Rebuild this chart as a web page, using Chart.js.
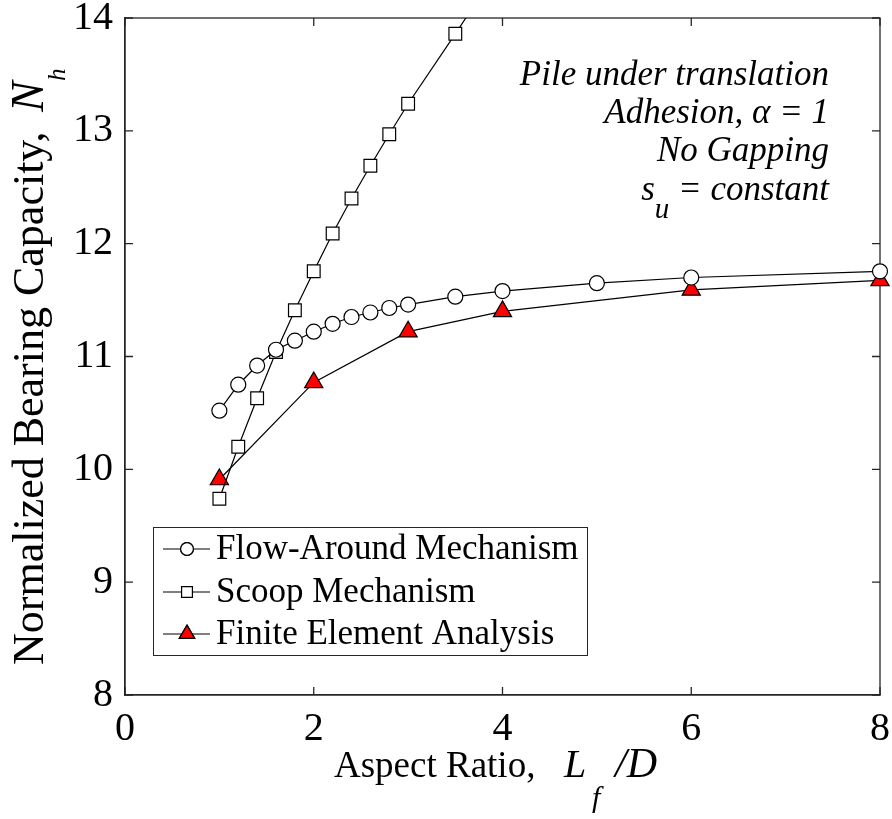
<!DOCTYPE html>
<html>
<head>
<meta charset="utf-8">
<script src="https://cdn.jsdelivr.net/npm/chart.js@4.4.1/dist/chart.umd.min.js"></script>
<style>
  html, body { margin: 0; padding: 0; background: #ffffff; }
  #c { display: block; }
</style>
</head>
<body>
<canvas id="c" width="892" height="819"></canvas>
<script>
// Aspect ratio L_f/D
const xFlow  = [1, 1.2, 1.4, 1.6, 1.8, 2, 2.2, 2.4, 2.6, 2.8, 3, 3.5, 4, 5, 6, 8];
const nFlow  = [10.52, 10.75, 10.92, 11.06, 11.14, 11.22, 11.29, 11.35, 11.39, 11.43, 11.46, 11.53, 11.58, 11.65, 11.70, 11.755];

const xScoop = [1, 1.2, 1.4, 1.6, 1.8, 2, 2.2, 2.4, 2.6, 2.8, 3, 3.5, 4];
const nScoop = [9.74, 10.20, 10.63, 11.04, 11.41, 11.755, 12.09, 12.40, 12.69, 12.97, 13.24, 13.86, 14.49];

const xFea   = [1, 2, 3, 4, 6, 8];
const nFea   = [9.91, 10.77, 11.22, 11.40, 11.59, 11.675];

const seriesNames = ['Flow-Around Mechanism', 'Scoop Mechanism', 'Finite Element Analysis'];
const xTicks = [0, 2, 4, 6, 8];
const yTicks = [8, 9, 10, 11, 12, 13, 14];

const SERIF = '"Liberation Serif", "Times New Roman", serif';
const AXIS = '#262626';

const toPts = (xs, ys) => xs.map((x, i) => ({ x: x, y: ys[i] }));

const styles = [
  { pointStyle: 'circle',   radius: 7.5, fill: '#ffffff' },
  { pointStyle: 'rect',     radius: 9,   fill: '#ffffff' },
  { pointStyle: 'triangle', radius: 10.5, fill: '#ff0000' }
];

function dataset(i, pts, clip) {
  const s = styles[i];
  return {
    label: seriesNames[i],
    data: pts,
    showLine: true,
    borderColor: '#000000',
    borderWidth: 1.2,
    pointStyle: s.pointStyle,
    pointRadius: s.radius,
    pointBackgroundColor: s.fill,
    pointBorderColor: '#000000',
    pointBorderWidth: 1.2,
    tension: 0,
    clip: clip
  };
}

// Draws text runs; a run with `at` is placed at that offset, otherwise right after the previous one.
function drawRuns(ctx, runs, x, y, measureOnly) {
  let cx = x;
  for (const r of runs) {
    if (r.at !== undefined) cx = x + r.at;
    ctx.font = (r.italic ? 'italic ' : '') + r.size + 'px ' + SERIF;
    const w = ctx.measureText(r.text).width;
    if (!measureOnly) ctx.fillText(r.text, cx, y + (r.dy || 0));
    cx += w;
  }
  return cx - x;
}

const framePlugin = {
  id: 'frame',
  beforeDatasetsDraw(chart) {
    const { ctx, chartArea: a, scales } = chart;
    ctx.save();
    ctx.strokeStyle = AXIS;
    ctx.lineWidth = 1.3;
    ctx.strokeRect(a.left, a.top, a.right - a.left, a.bottom - a.top);
    const tl = 8;
    ctx.beginPath();
    for (const v of xTicks) {
      const px = scales.x.getPixelForValue(v);
      ctx.moveTo(px, a.bottom); ctx.lineTo(px, a.bottom - tl);
      ctx.moveTo(px, a.top);    ctx.lineTo(px, a.top + tl);
    }
    for (const v of yTicks) {
      const py = scales.y.getPixelForValue(v);
      ctx.moveTo(a.left, py);  ctx.lineTo(a.left + tl, py);
      ctx.moveTo(a.right, py); ctx.lineTo(a.right - tl, py);
    }
    ctx.stroke();
    ctx.restore();
  },
  afterDraw(chart) {
    const { ctx } = chart;
    ctx.save();
    ctx.fillStyle = '#000000';
    ctx.textBaseline = 'alphabetic';
    ctx.textAlign = 'left';

    // x-axis title
    drawRuns(ctx, [
      { text: 'Aspect Ratio,', size: 37 },
      { text: 'L', size: 40, italic: true, at: 230 },
      { text: 'f', size: 30, italic: true, dy: 30, at: 258 },
      { text: '/D', size: 42, italic: true, at: 281 }
    ], 334, 777);

    // y-axis title (rotated)
    ctx.save();
    ctx.translate(43, 665);
    ctx.rotate(-Math.PI / 2);
    drawRuns(ctx, [
      { text: 'Normalized Bearing Capacity,', size: 44 },
      { text: 'N', size: 46, italic: true, at: 553 },
      { text: 'h', size: 25, italic: true, dy: 22, at: 584 }
    ], 0, 0);
    ctx.restore();

    // annotation block, right-aligned
    const right = 829;
    const lines = [
      [[{ text: 'Pile under translation', size: 35, italic: true }], 85],
      [[{ text: 'Adhesion, \u03b1 = 1', size: 35, italic: true }], 123],
      [[{ text: 'No Gapping', size: 35, italic: true }], 161],
      [[{ text: 's', size: 35, italic: true },
        { text: 'u', size: 29, italic: true, dy: 18 },
        { text: ' = constant', size: 35, italic: true }], 200]
    ];
    for (const [runs, y] of lines) {
      const w = drawRuns(ctx, runs, 0, 0, true);
      drawRuns(ctx, runs, right - w, y);
    }

    // legend
    const box = { x: 153, y: 527, w: 434, h: 128 };
    ctx.fillStyle = '#ffffff';
    ctx.fillRect(box.x, box.y, box.w, box.h);
    ctx.strokeStyle = AXIS;
    ctx.lineWidth = 1;
    ctx.strokeRect(box.x + 0.5, box.y + 0.5, box.w, box.h);
    const rows = [549, 592, 634];
    chart.data.datasets.forEach((ds, i) => {
      const y = rows[i];
      ctx.strokeStyle = '#000000';
      ctx.lineWidth = 1.2;
      ctx.beginPath();
      ctx.moveTo(163, y); ctx.lineTo(210, y);
      ctx.stroke();
      const s = styles[i];
      ctx.fillStyle = s.fill;
      Chart.helpers.drawPoint(ctx, {
        pointStyle: s.pointStyle,
        radius: s.radius * 0.85,
        borderWidth: 1.2,
        rotation: 0
      }, 187, y);
      ctx.fill();
      ctx.stroke();
      ctx.fillStyle = '#000000';
      ctx.font = '35px ' + SERIF;
      ctx.textBaseline = 'middle';
      ctx.fillText(ds.label, 216, y + 1);
    });
    ctx.restore();
  }
};

const tickFont = { family: SERIF, size: 40, lineHeight: 1 };

new Chart(document.getElementById('c'), {
  type: 'scatter',
  data: {
    datasets: [
      dataset(0, toPts(xFlow, nFlow), false),
      dataset(1, toPts(xScoop, nScoop), 0),
      dataset(2, toPts(xFea, nFea), false)
    ]
  },
  options: {
    responsive: false,
    animation: false,
    devicePixelRatio: 1,
    layout: { padding: { left: 0, right: 12, top: 18, bottom: 0 } },
    plugins: { legend: { display: false }, tooltip: { enabled: false } },
    scales: {
      x: {
        type: 'linear', min: 0, max: 8,
        afterBuildTicks(s) { s.ticks = xTicks.map(v => ({ value: v })); },
        grid: { display: false, drawTicks: false },
        border: { display: true, color: AXIS, width: 1.3 },
        ticks: { font: tickFont, color: '#000000', padding: 14, maxRotation: 0, autoSkip: false },
        afterFit(s) { s.height = 124; s.paddingLeft = 0; s.paddingRight = 0; }
      },
      y: {
        type: 'linear', min: 8, max: 14,
        afterBuildTicks(s) { s.ticks = yTicks.map(v => ({ value: v })); },
        grid: { display: false, drawTicks: false },
        border: { display: true, color: AXIS, width: 1.3 },
        ticks: { font: tickFont, color: '#000000', padding: 12, autoSkip: false },
        afterFit(s) { s.width = 125; s.paddingTop = 0; s.paddingBottom = 0; }
      }
    }
  },
  plugins: [framePlugin]
});
</script>
</body>
</html>
